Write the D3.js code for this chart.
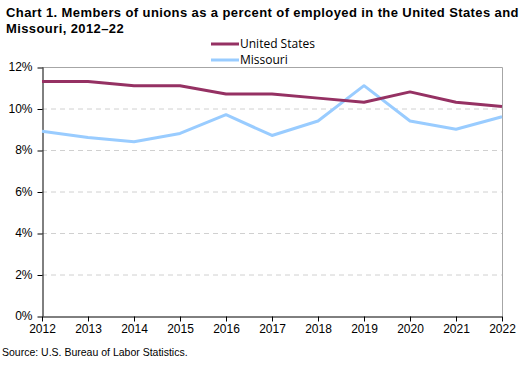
<!DOCTYPE html>
<html>
<head>
<meta charset="utf-8">
<script src="https://cdn.jsdelivr.net/npm/d3@7"></script>
<style>
  body { margin: 0; background: #fff; }
  svg { display: block; font-family: "Liberation Sans", Arial, sans-serif; }
</style>
</head>
<body>
<svg id="chart"></svg>
<script>
// union membership rate, percent of employed
const years = [2012, 2013, 2014, 2015, 2016, 2017, 2018, 2019, 2020, 2021, 2022];
const unitedStates = [11.3, 11.3, 11.1, 11.1, 10.7, 10.7, 10.5, 10.3, 10.8, 10.3, 10.1];
const missouri = [8.9, 8.6, 8.4, 8.8, 9.7, 8.7, 9.4, 11.1, 9.4, 9.0, 9.6];
const yTicks = [0, 2, 4, 6, 8, 10, 12];

const series = [
    { name: "United States", values: unitedStates, color: "#953163" },
    { name: "Missouri", values: missouri, color: "#99ccff" }
];

const width = 528, height = 365;
const margin = { top: 67, right: 26, bottom: 49, left: 42 };

const svg = d3.select("#chart")
    .attr("width", width)
    .attr("height", height);

const x = d3.scaleLinear()
    .domain([2012, 2022])
    .range([margin.left, width - margin.right]);

const y = d3.scaleLinear()
    .domain([0, 12])
    .range([height - margin.bottom, margin.top]);

// title
const title = svg.append("text")
    .attr("y", 17)
    .style("font-size", "13px")
    .style("font-weight", "bold")
    .style("letter-spacing", "0.4px")
    .attr("fill", "#000");
title.append("tspan").attr("x", 6).text("Chart 1. Members of unions as a percent of employed in the United  States and");
title.append("tspan").attr("x", 6).attr("dy", 16).text("Missouri,  2012\u201322");

// gridlines
svg.append("g")
    .selectAll("line")
    .data(yTicks.filter(d => d > 0 && d < 12))
    .join("line")
    .attr("x1", x(2012))
    .attr("x2", x(2022))
    .attr("y1", d => y(d) + 0.5)
    .attr("y2", d => y(d) + 0.5)
    .attr("stroke", "#d0d0d0")
    .attr("stroke-dasharray", "5,4");

// top and right border
svg.append("path")
    .attr("d", `M${x(2012)},${y(12) + 0.5}H${x(2022) + 0.5}V${y(0)}`)
    .attr("fill", "none")
    .attr("stroke", "#a6a6a6");

// y axis
const yAxis = svg.append("g")
    .attr("transform", `translate(${x(2012) + 0.5},0)`)
    .call(d3.axisLeft(y).tickValues(yTicks).tickFormat(d => d + "%").tickSize(5).tickSizeOuter(0));
yAxis.select(".domain").attr("stroke", "#000");
yAxis.selectAll(".tick line").attr("stroke", "#000").attr("transform", "translate(0,0.5)");
yAxis.selectAll("text")
    .attr("x", -10)
    .style("font-size", "12px")
    .style("font-family", "\"Liberation Sans\", Arial, sans-serif")
    .attr("fill", "#000");

// x axis
const xAxis = svg.append("g")
    .attr("transform", `translate(0,${y(0) + 0.5})`)
    .call(d3.axisBottom(x).tickValues(years).tickFormat(d3.format("d")).tickSize(5).tickSizeOuter(0));
xAxis.select(".domain").attr("stroke", "#000");
xAxis.selectAll(".tick line").attr("stroke", "#000");
xAxis.selectAll("text")
    .attr("y", 8)
    .style("font-size", "12px")
    .style("font-family", "\"Liberation Sans\", Arial, sans-serif")
    .attr("fill", "#000");

// lines
const line = d3.line()
    .x((d, i) => x(years[i]))
    .y(d => y(d));

svg.append("g")
    .selectAll("path")
    .data(series.slice().reverse())
    .join("path")
    .attr("d", d => line(d.values))
    .attr("fill", "none")
    .attr("stroke", d => d.color)
    .attr("stroke-width", 3)
    .attr("stroke-linejoin", "round");

// legend
const legend = svg.append("g")
    .selectAll("g")
    .data(series)
    .join("g")
    .attr("transform", (d, i) => `translate(211,${44 + i * 16})`);

legend.append("line")
    .attr("x1", 0)
    .attr("x2", 28)
    .attr("stroke", d => d.color)
    .attr("stroke-width", 3);

legend.append("text")
    .attr("x", 29)
    .attr("dy", "0.35em")
    .style("font-size", "12px")
    .style("font-family", "\"Open Sans\", sans-serif")
    .attr("fill", "#000")
    .text(d => d.name);

// source
svg.append("text")
    .attr("x", 2)
    .attr("y", 356)
    .style("font-size", "10.5px")
    .attr("fill", "#000")
    .text("Source: U.S. Bureau of Labor Statistics.");
</script>
</body>
</html>
